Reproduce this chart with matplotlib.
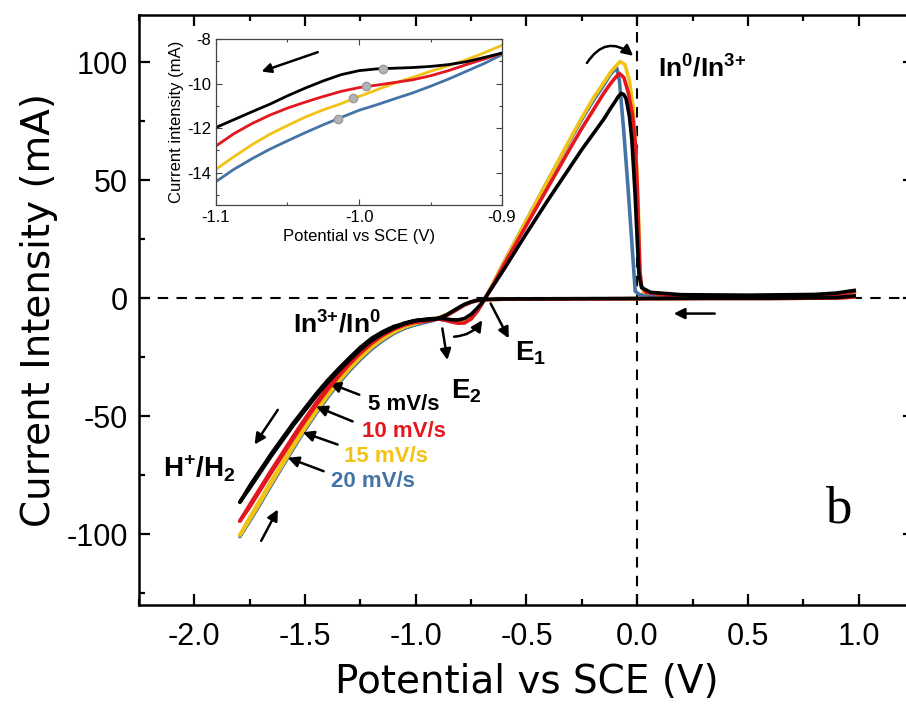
import matplotlib
matplotlib.use("Agg")
import matplotlib.pyplot as plt
from matplotlib.ticker import MultipleLocator, FormatStrFormatter

plt.rcParams['font.family'] = ['Liberation Sans', 'DejaVu Sans']
plt.rcParams['mathtext.fontset'] = 'custom'
plt.rcParams['mathtext.rm'] = 'Liberation Sans'
plt.rcParams['mathtext.bf'] = 'Liberation Sans:bold'
plt.rcParams['axes.unicode_minus'] = False

# ---- cathodic scan (0.98 V -> -1.8 V), potential V vs SCE, current mA ----
e_cat = [0.98, 0.9, 0.6, 0.3, 0.0, -0.3, -0.6, -0.69, -0.72, -0.75, -0.78, -0.8, -0.83, -0.86,
         -0.9, -0.925, -0.95, -0.975, -1.0, -1.025, -1.05, -1.075, -1.1, -1.15, -1.2, -1.25,
         -1.3, -1.35, -1.4, -1.45, -1.5, -1.55, -1.6, -1.65, -1.7, -1.75, -1.795]
i_cat_5 = [1.0, 0.3, 0.0, 0.0, -0.1, -0.2, -0.3, -0.5, -0.8, -1.5, -2.6, -3.6, -5.3, -7.0,
           -8.63, -9.02, -9.22, -9.31, -9.42, -9.88, -10.5, -11.3, -11.97, -14.2, -17.0, -20.8,
           -25.3, -30.0, -35.0, -40.5, -46.5, -52.5, -59.0, -65.5, -72.5, -79.5, -86.5]
i_cat_10 = [0.5, 0.1, -0.1, -0.1, -0.2, -0.3, -0.4, -0.6, -0.9, -1.7, -2.9, -4.0, -5.7, -7.3,
            -8.63, -9.15, -9.65, -9.95, -10.18, -10.58, -11.13, -11.85, -12.8, -15.3, -18.5, -22.5,
            -27.0, -32.3, -38.0, -44.3, -51.0, -58.0, -65.3, -72.5, -80.0, -87.5, -94.5]
i_cat_15 = [0.5, 0.1, -0.1, -0.1, -0.2, -0.3, -0.4, -0.6, -0.9, -1.5, -2.6, -3.7, -5.4, -6.9,
            -8.28, -8.93, -9.45, -9.98, -10.6, -11.18, -11.9, -12.8, -13.85, -16.6, -20.0, -24.3,
            -29.0, -34.5, -40.5, -47.0, -54.0, -61.5, -69.3, -77.0, -85.0, -92.8, -100.5]
i_cat_20 = [0.5, 0.1, -0.1, -0.1, -0.2, -0.3, -0.4, -0.6, -1.0, -1.6, -2.8, -3.9, -5.6, -7.1,
            -8.7, -9.45, -10.1, -10.67, -11.2, -11.85, -12.57, -13.4, -14.4, -17.2, -20.7, -25.0,
            -29.8, -35.3, -41.3, -47.8, -54.8, -62.3, -70.0, -77.8, -85.8, -93.5, -101.0]

# ---- reverse scan (-1.75 V -> -0.12 V) ----
e_rev = [-1.75, -1.7, -1.65, -1.6, -1.55, -1.5, -1.45, -1.4, -1.35, -1.3, -1.25, -1.2, -1.15,
         -1.1, -1.05, -1.0, -0.95, -0.9, -0.87, -0.84, -0.81, -0.78, -0.75, -0.72, -0.7, -0.68,
         -0.65, -0.6, -0.5, -0.4, -0.3, -0.25, -0.2, -0.15, -0.12]
i_rev_5 = [-80.5, -73.5, -66.5, -60.0, -53.5, -47.5, -41.5, -36.0, -31.0, -26.3, -21.8, -18.0, -15.0,
           -12.6, -10.8, -9.5, -8.8, -8.5, -8.7, -9.1, -9.2, -8.6, -6.8, -4.0, -1.8, 1.0,
           5.3, 12.5, 27.5, 42.0, 56.0, 63.0, 69.5, 76.0, 80.5]
i_rev_10 = [-88.5, -81.0, -73.5, -66.3, -59.0, -52.0, -45.3, -39.0, -33.3, -28.0, -23.3, -19.2, -15.8,
            -13.2, -11.3, -10.0, -9.2, -8.8, -9.3, -10.0, -10.6, -10.5, -8.8, -5.3, -2.2, 1.0,
            5.8, 14.5, 31.0, 47.5, 64.0, 72.0, 79.5, 87.0, 91.0]
i_rev_15 = [-93.8, -86.0, -78.0, -70.3, -62.5, -55.0, -48.0, -41.5, -35.5, -30.0, -25.2, -20.8, -17.3,
            -14.4, -12.2, -10.6, -9.3, -8.6, -8.9, -9.6, -10.0, -9.7, -8.0, -5.0, -2.2, 1.2,
            6.3, 15.5, 33.0, 50.5, 68.0, 76.5, 84.5, 91.5, 95.8]
i_rev_20 = [-94.5, -86.8, -78.8, -71.0, -63.3, -55.8, -48.8, -42.3, -36.3, -30.8, -26.0, -21.6, -18.0,
            -15.0, -12.7, -11.0, -9.6, -8.8, -9.1, -9.7, -10.0, -9.7, -8.0, -5.0, -2.2, 1.2,
            6.3, 15.5, 33.0, 50.5, 67.5, 75.8, 83.5, 90.5, 95.0]

# ---- stripping peak and return to 0.98 V ----
e_pk_5 = [-0.1, -0.085, -0.072, -0.06, -0.05, -0.035, -0.024, -0.01, 0.0, 0.008, 0.02, 0.06,
          0.2, 0.5, 0.8, 0.9, 0.98]
i_pk_5 = [83.3, 85.5, 86.8, 86.3, 84.5, 77.0, 67.0, 45.0, 25.0, 10.0, 4.5, 2.5,
          1.5, 1.3, 1.6, 2.2, 3.3]
e_pk_10 = [-0.1, -0.081, -0.06, -0.04, -0.02, -0.009, 0.0, 0.006, 0.012, 0.02, 0.04,
           0.2, 0.5, 0.8, 0.9, 0.98]
i_pk_10 = [93.3, 95.3, 93.5, 87.0, 77.0, 66.0, 48.0, 30.0, 12.0, 5.0, 2.5,
           0.5, 0.3, 0.8, 1.5, 2.8]
e_pk_15 = [-0.1, -0.077, -0.055, -0.035, -0.018, -0.005, 0.005, 0.01, 0.015, 0.03,
           0.2, 0.5, 0.8, 0.9, 0.98]
i_pk_15 = [98.0, 100.3, 99.0, 92.0, 80.7, 60.0, 38.5, 20.0, 6.0, 2.5,
           1.0, 0.8, 1.0, 1.6, 2.6]
e_pk_20 = [-0.1, -0.092, -0.08, -0.06, -0.04, -0.02, -0.009, 0.01,
           0.2, 0.5, 0.8, 0.9, 0.98]
i_pk_20 = [97.0, 97.5, 92.0, 70.0, 45.0, 18.0, 3.0, 1.5,
           1.0, 0.8, 1.0, 1.6, 2.6]

# ---- inset: zoom of the cathodic scan ----
e_in = [-0.9, -0.9125, -0.925, -0.9375, -0.95, -0.9625, -0.975, -0.9875, -1.0,
        -1.0125, -1.025, -1.0375, -1.05, -1.0625, -1.075, -1.0875, -1.1]
i_in_5 = [-8.63, -8.83, -9.02, -9.15, -9.23, -9.28, -9.31, -9.34, -9.42,
          -9.6, -9.88, -10.2, -10.55, -10.93, -11.27, -11.62, -11.97]
i_in_10 = [-8.63, -8.9, -9.15, -9.42, -9.65, -9.83, -9.95, -10.07, -10.18,
           -10.35, -10.58, -10.83, -11.1, -11.42, -11.8, -12.25, -12.8]
i_in_15 = [-8.28, -8.62, -8.93, -9.2, -9.45, -9.72, -9.98, -10.28, -10.58,
           -10.9, -11.18, -11.5, -11.88, -12.28, -12.75, -13.28, -13.85]
i_in_20 = [-8.7, -9.1, -9.45, -9.8, -10.12, -10.42, -10.68, -10.95, -11.2,
           -11.52, -11.85, -12.2, -12.57, -12.95, -13.38, -13.85, -14.4]
dot_e = [-0.983, -0.995, -1.004, -1.015]
dot_i = [-9.33, -10.13, -10.65, -11.6]

rates = ["5 mV/s", "10 mV/s", "15 mV/s", "20 mV/s"]
colors = ["#000000", "#e3171f", "#f2c215", "#4474a6"]

fig = plt.figure(figsize=(9.06, 7.16), dpi=100)
ax = fig.add_axes([0.1534, 0.155, 0.8554, 0.824])

ax.axhline(0, color="k", lw=1.5, ls=(0, (5, 4)), zorder=1)
ax.axvline(0, color="k", lw=1.5, ls=(0, (5, 4)), zorder=1)

i_cat = [i_cat_5, i_cat_10, i_cat_15, i_cat_20]
i_rev = [i_rev_5, i_rev_10, i_rev_15, i_rev_20]
e_pk = [e_pk_5, e_pk_10, e_pk_15, e_pk_20]
i_pk = [i_pk_5, i_pk_10, i_pk_15, i_pk_20]
for k in [3, 2, 1, 0]:
    e = e_cat + e_rev + e_pk[k]
    i = i_cat[k] + i_rev[k] + i_pk[k]
    ax.plot(e, i, color=colors[k], lw=2.6, zorder=2 + (3 - k), solid_joinstyle="round")

ax.set_xlim(-2.25, 1.25)
ax.set_ylim(-130, 120)
ax.xaxis.set_major_locator(MultipleLocator(0.5))
ax.xaxis.set_minor_locator(MultipleLocator(0.25))
ax.yaxis.set_major_locator(MultipleLocator(50))
ax.yaxis.set_minor_locator(MultipleLocator(25))
ax.xaxis.set_major_formatter(FormatStrFormatter("%.1f"))
ax.tick_params(which="both", direction="in", top=True, right=True, width=1.6)
ax.tick_params(which="major", length=8, labelsize=22)
ax.tick_params(axis="x", which="major", pad=12)
ax.tick_params(axis="y", which="major", pad=8)
ax.tick_params(which="minor", length=4)
for s in ax.spines.values():
    s.set_linewidth(1.8)

ax.set_xlabel("Potential vs SCE (V)", fontsize=28, family="DejaVu Sans", labelpad=8)
ax.set_ylabel("Current Intensity (mA)", fontsize=28, family="DejaVu Sans", labelpad=6)

# ---- annotations ----
arr = dict(arrowstyle="-|>", color="k", lw=1.8, mutation_scale=16, shrinkA=0, shrinkB=0)
ax.annotate("", xy=(-0.018, 102.7), xytext=(-0.227, 99.7),
            arrowprops=dict(arr, connectionstyle="arc3,rad=-0.55"))
ax.annotate("", xy=(0.165, -6.5), xytext=(0.35, -6.5), arrowprops=arr)
ax.annotate("", xy=(-1.728, -62.0), xytext=(-1.623, -47.3), arrowprops=arr)
ax.annotate("", xy=(-1.623, -89.5), xytext=(-1.698, -102.8), arrowprops=arr)
ax.annotate("", xy=(-0.857, -26.2), xytext=(-0.88, -12.8), arrowprops=arr)
ax.annotate("", xy=(-0.70, -9.3), xytext=(-0.827, -16.3),
            arrowprops=dict(arr, connectionstyle="arc3,rad=0.25"))
ax.annotate("", xy=(-0.58, -17.0), xytext=(-0.662, -2.2), arrowprops=arr)
ax.annotate("", xy=(-1.39, -36.0), xytext=(-1.255, -40.9), arrowprops=arr)
ax.annotate("", xy=(-1.45, -45.9), xytext=(-1.285, -52.2), arrowprops=arr)
ax.annotate("", xy=(-1.51, -56.8), xytext=(-1.353, -62.0), arrowprops=arr)
ax.annotate("", xy=(-1.578, -67.6), xytext=(-1.416, -73.3), arrowprops=arr)

ax.text(0.095, 94, r"In$^{\mathbf{0}}$/In$^{\mathbf{3{+}}}$", fontsize=19, fontweight="bold")
ax.text(-1.554, -14.3, r"In$^{\mathbf{3{+}}}$/In$^{\mathbf{0}}$", fontsize=19, fontweight="bold")
ax.text(-2.14, -76, r"H$^{\mathbf{+}}$/H$_{\mathbf{2}}$", fontsize=20, fontweight="bold")
ax.text(-0.842, -42.2, r"E$_{\mathbf{2}}$", fontsize=20, fontweight="bold")
ax.text(-0.55, -26.2, r"E$_{\mathbf{1}}$", fontsize=20, fontweight="bold")
rate_pos = [(-1.216, -47.3), (-1.243, -58.6), (-1.324, -69.6), (-1.383, -80.2)]
for (x, y), lab, c in zip(rate_pos, rates, colors):
    ax.text(x, y, lab, fontsize=16, fontweight="bold", color=c)
ax.text(0.847, -95, "b", fontsize=38, family="Liberation Serif")

# ---- inset ----
axi = fig.add_axes([0.2384, 0.7137, 0.3157, 0.2318])
i_in = [i_in_5, i_in_10, i_in_15, i_in_20]
for k in [3, 2, 1, 0]:
    axi.plot(e_in, i_in[k], color=colors[k], lw=2.0)
axi.plot(dot_e, dot_i, "o", ms=6, mfc="#b4b4b4", mec="#9a9a9a", zorder=5)
axi.annotate("", xy=(-1.070, -9.5), xytext=(-1.027, -8.55),
             arrowprops=dict(arrowstyle="-|>", color="k", lw=1.8, mutation_scale=14))
axi.set_xlim(-1.1, -0.9)
axi.set_ylim(-15.45, -8)
axi.xaxis.set_major_locator(MultipleLocator(0.1))
axi.xaxis.set_minor_locator(MultipleLocator(0.05))
axi.yaxis.set_major_locator(MultipleLocator(2))
axi.yaxis.set_minor_locator(MultipleLocator(1))
axi.xaxis.set_major_formatter(FormatStrFormatter("%.1f"))
axi.tick_params(which="both", direction="in", top=True, right=True, width=0.8,
                color="#444444", labelsize=12)
axi.tick_params(which="major", length=4)
axi.tick_params(which="minor", length=2.5)
for s in axi.spines.values():
    s.set_linewidth(0.9)
    s.set_color("#444444")
axi.set_xlabel("Potential vs SCE (V)", fontsize=12, labelpad=3)
axi.set_ylabel("Current intensity (mA)", fontsize=12, labelpad=2)

fig.savefig("out.png", dpi=100)
